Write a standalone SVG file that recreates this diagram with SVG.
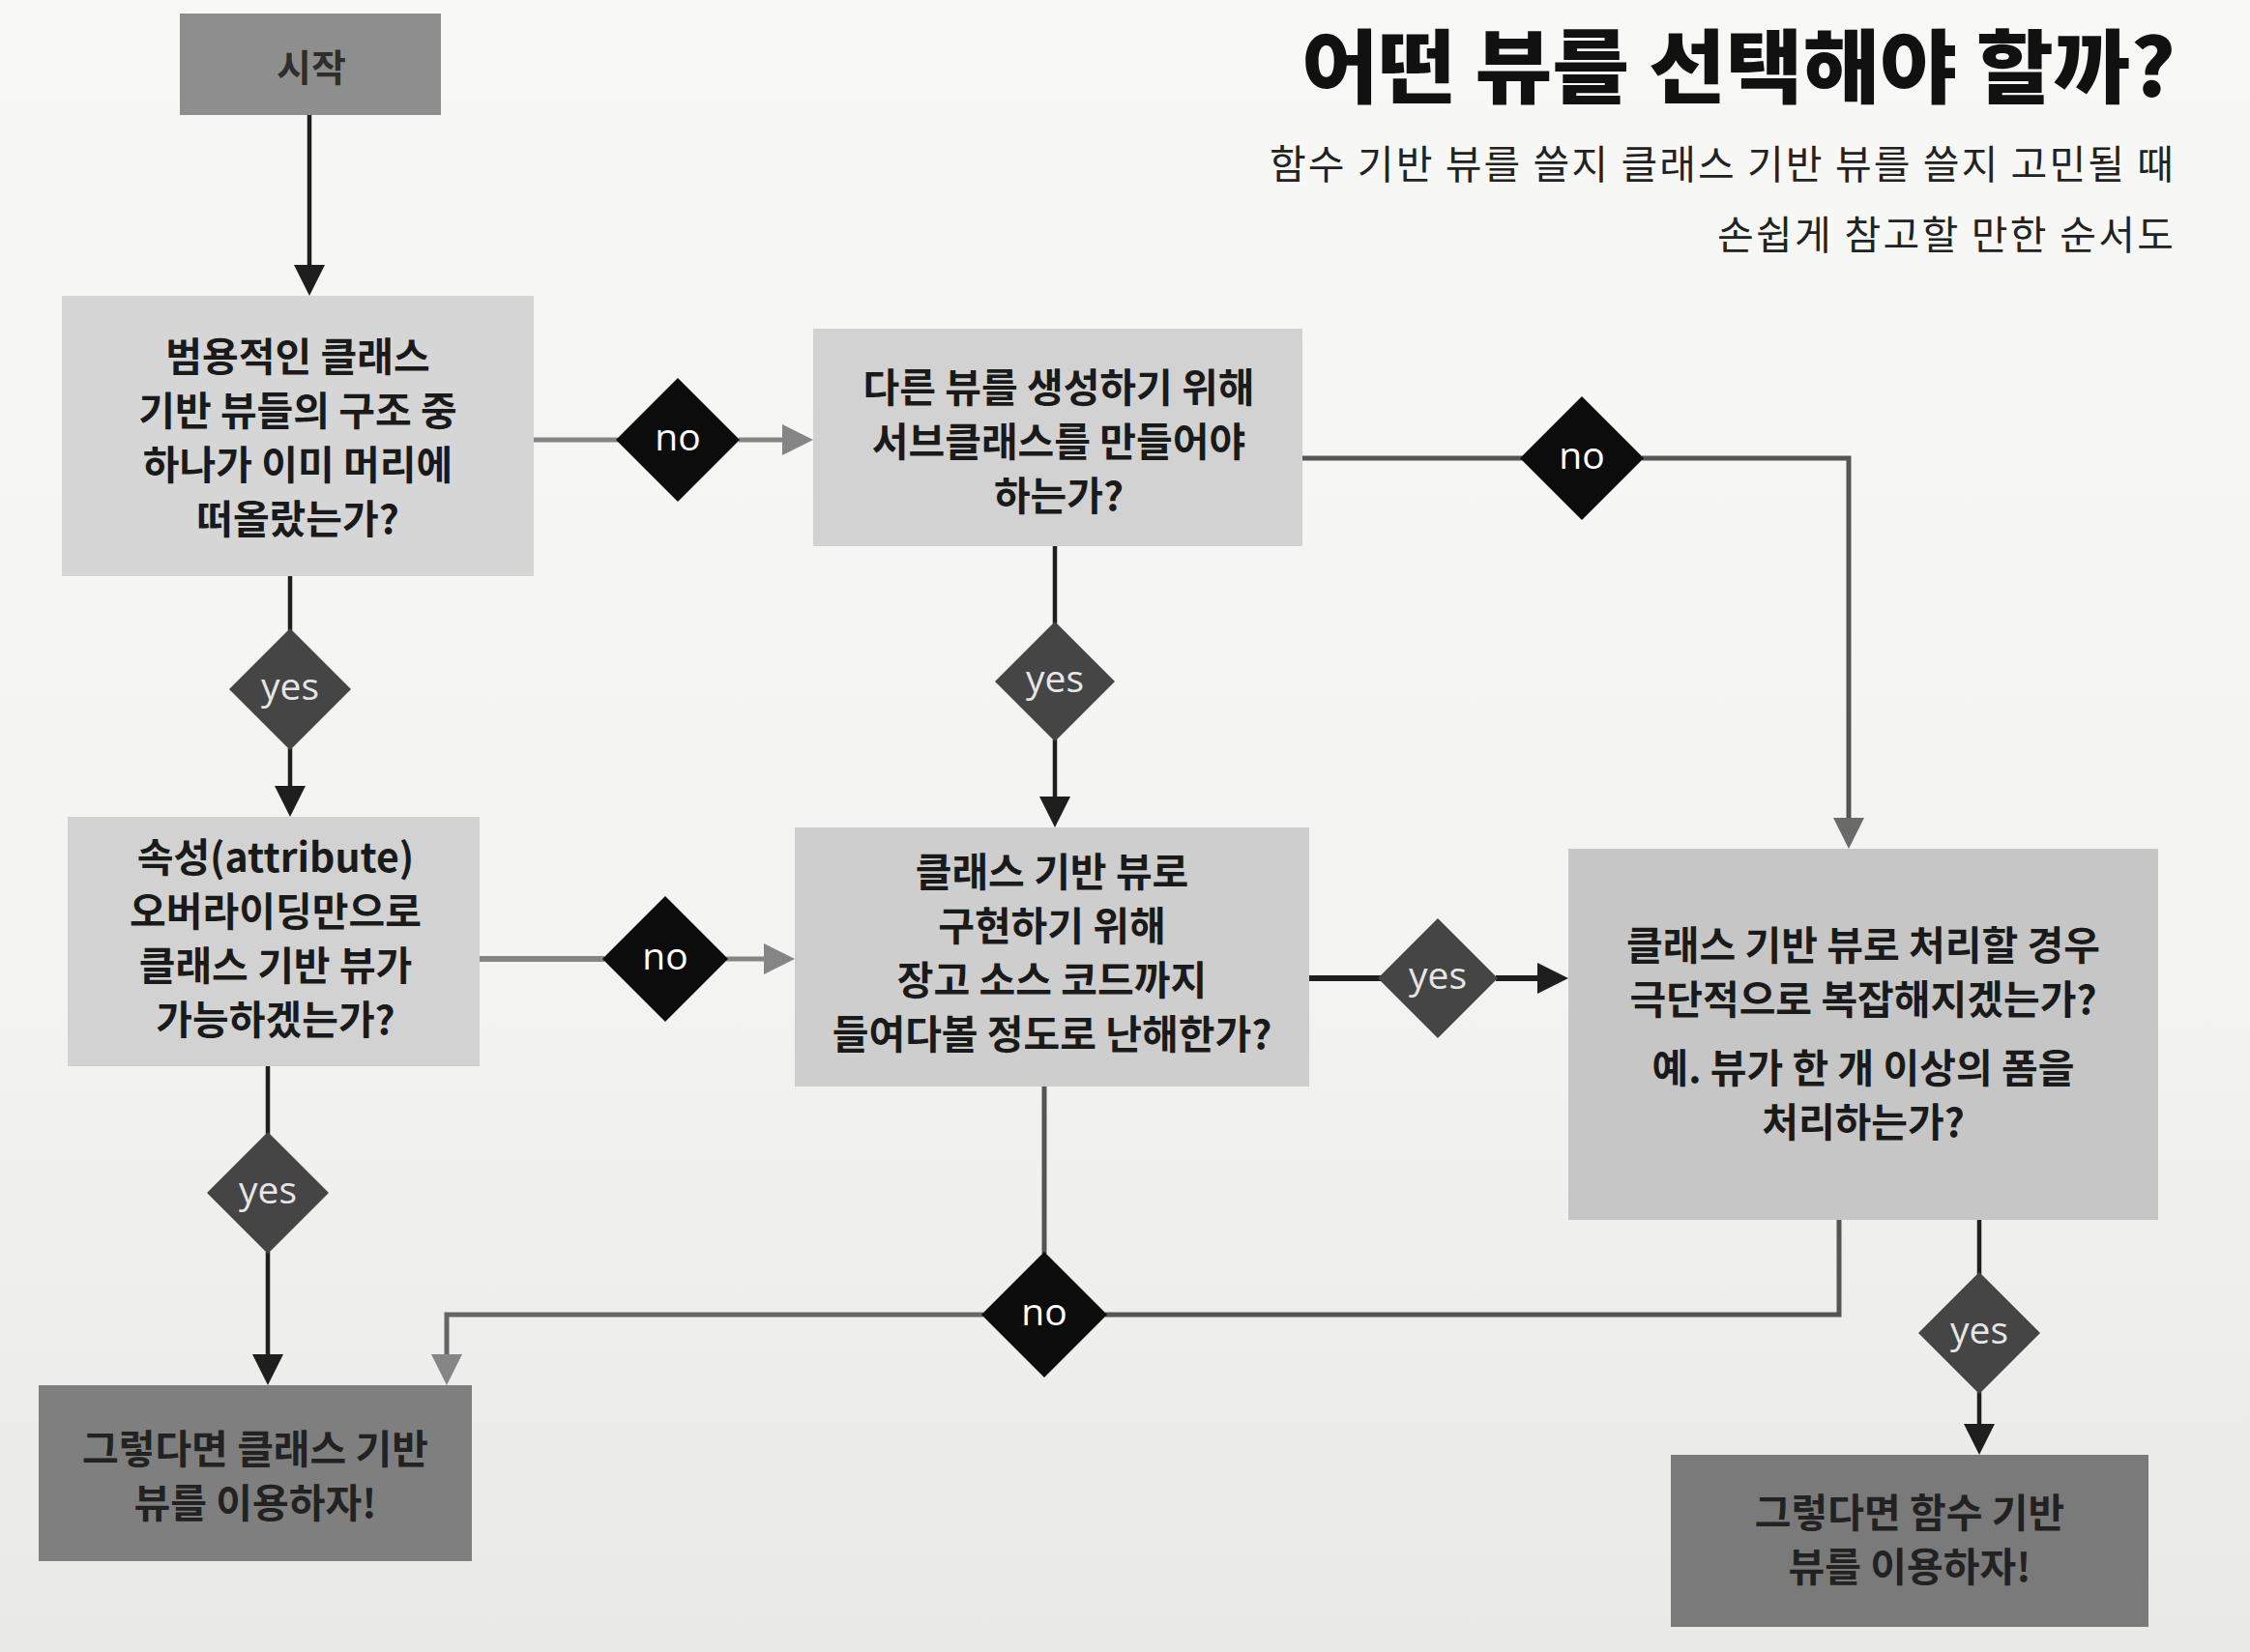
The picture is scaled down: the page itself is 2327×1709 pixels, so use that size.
<svg xmlns="http://www.w3.org/2000/svg" width="2327" height="1709" viewBox="0 0 2327 1709">
<defs>
<linearGradient id="bg" x1="0" y1="0" x2="0" y2="1">
<stop offset="0" stop-color="#f8f8f6"/>
<stop offset="0.6" stop-color="#f3f3f1"/>
<stop offset="1" stop-color="#e9e9e8"/>
</linearGradient>
<marker id="ab" markerUnits="userSpaceOnUse" markerWidth="34" markerHeight="34" refX="24" refY="16" orient="auto">
<path d="M0,0 L32,16 L0,32 z" fill="#1e1e1e"/>
</marker>
<marker id="ag" markerUnits="userSpaceOnUse" markerWidth="34" markerHeight="34" refX="24" refY="16" orient="auto">
<path d="M0,0 L32,16 L0,32 z" fill="#858585"/>
</marker>
<marker id="ad" markerUnits="userSpaceOnUse" markerWidth="34" markerHeight="34" refX="24" refY="16" orient="auto">
<path d="M0,0 L32,16 L0,32 z" fill="#6a6a6a"/>
</marker>
</defs>
<style>
.q{font-family:"Noto Sans CJK KR","Noto Sans",sans-serif;font-weight:700;font-size:41px;fill:#1a1a1a;text-anchor:middle}
.sub{font-family:"Noto Sans CJK KR",sans-serif;font-weight:400;font-size:41px;fill:#222}
.lbl{font-family:"Open Sans","Noto Sans",sans-serif;font-size:39px;text-anchor:middle;fill:#ffffff}
.ylbl{fill:#e6e6e6}
.boxq{fill:#d2d2d2}
.boxend{fill:#7f7f7f}
.dno{fill:#0c0c0c}
.dyes{fill:#454545}
.c{fill:none;stroke-linecap:butt;stroke-linejoin:miter}
.cb{stroke:#1e1e1e;stroke-width:4.5}
.cg{stroke:#858585;stroke-width:5}
.cd{stroke:#555555;stroke-width:5}
</style>
<rect x="0" y="0" width="2327" height="1709" fill="url(#bg)"/>

<g id="title">
<text x="1346" y="100" textLength="904" lengthAdjust="spacingAndGlyphs" style="font-family:'Noto Sans CJK KR',sans-serif;font-weight:900;font-size:83px;fill:#111">어떤 뷰를 선택해야 할까?</text>
<text class="sub" x="1313" y="185" textLength="935" lengthAdjust="spacing">함수 기반 뷰를 쓸지 클래스 기반 뷰를 쓸지 고민될 때</text>
<text class="sub" x="1776" y="258" textLength="472" lengthAdjust="spacing">손쉽게 참고할 만한 순서도</text>
</g>

<g id="connectors">
<line class="c cb" x1="320" y1="118" x2="320" y2="298" marker-end="url(#ab)"/>
<line class="c cg" x1="552" y1="455" x2="640" y2="455"/>
<line class="c cg" x1="764" y1="455" x2="833" y2="455" marker-end="url(#ag)"/>
<line class="c cd" x1="1347" y1="474" x2="1575" y2="474"/>
<polyline class="c cd" points="1698,474 1912,474 1912,870" marker-end="url(#ad)"/>
<line class="c cb" x1="300" y1="596" x2="300" y2="652"/>
<line class="c cb" x1="300" y1="774" x2="300" y2="837" marker-end="url(#ab)"/>
<line class="c cb" x1="1091" y1="565" x2="1091" y2="645"/>
<line class="c cb" x1="1091" y1="765" x2="1091" y2="848" marker-end="url(#ab)"/>
<line class="c cg" x1="496" y1="992" x2="625" y2="992" style="stroke-width:6"/>
<line class="c cg" x1="751" y1="992" x2="814" y2="992" marker-end="url(#ag)"/>
<line class="c cb" x1="1354" y1="1012" x2="1428" y2="1012" style="stroke-width:6"/>
<line class="c cb" x1="1547" y1="1012" x2="1614" y2="1012" style="stroke-width:6" marker-end="url(#ab)"/>
<line class="c cb" x1="277" y1="1103" x2="277" y2="1173"/>
<line class="c cb" x1="277" y1="1295" x2="277" y2="1425" marker-end="url(#ab)"/>
<line class="c cd" x1="1080" y1="1124" x2="1080" y2="1297"/>
<polyline class="c cd" points="1902,1262 1902,1360 1143,1360"/>
<polyline class="c cd" points="1017,1360 462,1360 462,1425" style="stroke:#666" marker-end="url(#ag)"/>
<line class="c cb" x1="2047" y1="1262" x2="2047" y2="1318"/>
<line class="c cb" x1="2047" y1="1440" x2="2047" y2="1497" marker-end="url(#ab)"/>
</g>

<g id="start">
<rect x="186" y="14" width="270" height="105" fill="#8e8e8e"/>
<text class="q" x="322" y="84" style="font-size:39px;fill:#2e2e2e">시작</text>
</g>

<g id="q1">
<rect class="boxq" x="64" y="306" width="488" height="290" style="fill:#d6d6d6"/>
<text class="q" x="308" y="384">범용적인 클래스</text>
<text class="q" x="308" y="440">기반 뷰들의 구조 중</text>
<text class="q" x="308" y="496">하나가 이미 머리에</text>
<text class="q" x="308" y="552">떠올랐는가?</text>
</g>

<g id="q2">
<rect class="boxq" x="841" y="340" width="506" height="225"/>
<text class="q" x="1095" y="416">다른 뷰를 생성하기 위해</text>
<text class="q" x="1095" y="472">서브클래스를 만들어야</text>
<text class="q" x="1095" y="528">하는가?</text>
</g>

<g id="q3">
<rect class="boxq" x="70" y="845" width="426" height="258"/>
<text class="q" x="285" y="902">속성(attribute)</text>
<text class="q" x="285" y="958">오버라이딩만으로</text>
<text class="q" x="285" y="1014">클래스 기반 뷰가</text>
<text class="q" x="285" y="1070">가능하겠는가?</text>
</g>

<g id="q4">
<rect class="boxq" x="822" y="856" width="532" height="268" style="fill:#cecece"/>
<text class="q" x="1088" y="917">클래스 기반 뷰로</text>
<text class="q" x="1088" y="973">구현하기 위해</text>
<text class="q" x="1088" y="1029">장고 소스 코드까지</text>
<text class="q" x="1088" y="1085">들여다볼 정도로 난해한가?</text>
</g>

<g id="q5">
<rect class="boxq" x="1622" y="878" width="610" height="384" style="fill:#c6c6c6"/>
<text class="q" x="1927" y="993">클래스 기반 뷰로 처리할 경우</text>
<text class="q" x="1927" y="1049">극단적으로 복잡해지겠는가?</text>
<text class="q" x="1927" y="1120">예. 뷰가 한 개 이상의 폼을</text>
<text class="q" x="1927" y="1176">처리하는가?</text>
</g>

<g id="end-class">
<rect class="boxend" x="40" y="1433" width="448" height="182"/>
<text class="q" x="264" y="1514" style="fill:#222">그렇다면 클래스 기반</text>
<text class="q" x="264" y="1570" style="fill:#222">뷰를 이용하자!</text>
</g>

<g id="end-func">
<rect class="boxend" x="1728" y="1505" width="494" height="178" style="fill:#7a7a7a"/>
<text class="q" x="1975" y="1580" style="fill:#222">그렇다면 함수 기반</text>
<text class="q" x="1975" y="1636" style="fill:#222">뷰를 이용하자!</text>
</g>

<g id="d-no1">
<polygon class="dno" points="701,391 765,455 701,519 637,455"/>
<text class="lbl" x="701" y="466">no</text>
</g>
<g id="d-yes1">
<polygon class="dyes" points="300,650 363,713 300,776 237,713"/>
<text class="lbl ylbl" x="300" y="724">yes</text>
</g>
<g id="d-no2">
<polygon class="dno" points="1636,410 1700,474 1636,538 1572,474"/>
<text class="lbl" x="1636" y="485">no</text>
</g>
<g id="d-yes2">
<polygon class="dyes" points="1091,643 1153,705 1091,767 1029,705"/>
<text class="lbl ylbl" x="1091" y="716">yes</text>
</g>
<g id="d-no3">
<polygon class="dno" points="688,927 753,992 688,1057 623,992"/>
<text class="lbl" x="688" y="1003">no</text>
</g>
<g id="d-yes3">
<polygon class="dyes" points="1487,950 1549,1012 1487,1074 1425,1012"/>
<text class="lbl ylbl" x="1487" y="1023">yes</text>
</g>
<g id="d-yes4">
<polygon class="dyes" points="277,1171 340,1234 277,1297 214,1234"/>
<text class="lbl ylbl" x="277" y="1245">yes</text>
</g>
<g id="d-no4">
<polygon class="dno" points="1080,1295 1145,1360 1080,1425 1015,1360"/>
<text class="lbl" x="1080" y="1371">no</text>
</g>
<g id="d-yes5">
<polygon class="dyes" points="2047,1316 2110,1379 2047,1442 1984,1379"/>
<text class="lbl ylbl" x="2047" y="1390">yes</text>
</g>
</svg>
